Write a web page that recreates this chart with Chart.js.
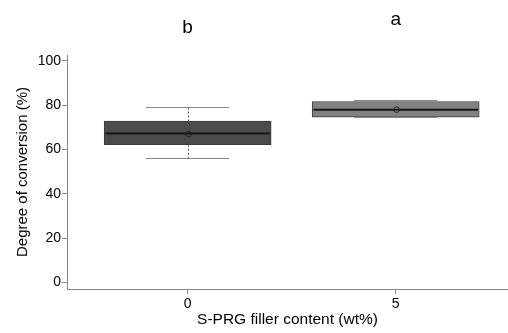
<!DOCTYPE html>
<html><head><meta charset="utf-8">
<script src="https://cdn.jsdelivr.net/npm/chart.js@4/dist/chart.umd.min.js"></script>
<style>html,body{margin:0;padding:0;background:#fff}#wrap{width:508px;height:333px}</style>
</head><body><div id="wrap"><canvas id="c" width="508" height="333"></canvas></div>
<script>
const categories = [0, 5];
const whiskerLow = [56.2, 74.5];
const q1 = [62.2, 74.6];
const median = [67.2, 78.0];
const q3 = [72.8, 81.7];
const whiskerHigh = [79.0, 82.4];
const means = [67.0, 78.0];
const letters = ['b', 'a'];
const letterY = [112.6, 116.2];
const yTicks = [0, 20, 40, 60, 80, 100];
const boxColors = ['#4b4b4b', '#828282'];

const FONT = '"Liberation Sans", Arial, sans-serif';

const boxPlugin = {
  id: 'boxExtras',
  afterDatasetsDraw(chart) {
    const ctx = chart.ctx, xs = chart.scales.x, ys = chart.scales.y;
    ctx.save();
    categories.forEach((c, i) => {
      const cx = Math.round(xs.getPixelForValue(c)) + 0.5;
      const capL = xs.getPixelForValue(c - 1), capR = xs.getPixelForValue(c + 1);
      const boxL = xs.getPixelForValue(c - 2), boxR = xs.getPixelForValue(c + 2);
      const yLo = Math.round(ys.getPixelForValue(whiskerLow[i])) + 0.5, yHi = Math.round(ys.getPixelForValue(whiskerHigh[i])) + 0.5;
      const yQ1 = ys.getPixelForValue(q1[i]), yQ3 = ys.getPixelForValue(q3[i]);
      ctx.strokeStyle = '#555';
      ctx.lineWidth = 1;
      ctx.setLineDash([2, 2]);
      ctx.beginPath();
      ctx.moveTo(cx, yHi); ctx.lineTo(cx, yQ3);
      ctx.moveTo(cx, yQ1); ctx.lineTo(cx, yLo);
      ctx.stroke();
      ctx.setLineDash([]);
      ctx.strokeStyle = '#8a8a8a';
      ctx.beginPath();
      ctx.moveTo(capL, yHi); ctx.lineTo(capR, yHi);
      ctx.moveTo(capL, yLo); ctx.lineTo(capR, yLo);
      ctx.stroke();
      const ym = ys.getPixelForValue(median[i]);
      ctx.strokeStyle = '#151515';
      ctx.lineWidth = 2;
      ctx.beginPath();
      ctx.moveTo(boxL + 1, ym); ctx.lineTo(boxR - 1, ym);
      ctx.stroke();
      const ymean = ys.getPixelForValue(means[i]);
      ctx.lineWidth = 1;
      ctx.strokeStyle = '#222';
      ctx.beginPath();
      ctx.arc(cx, ymean, 2.8, 0, Math.PI * 2);
      ctx.stroke();
      ctx.fillStyle = '#000';
      ctx.font = '19px ' + FONT;
      ctx.textAlign = 'center';
      ctx.textBaseline = 'alphabetic';
      ctx.fillText(letters[i], xs.getPixelForValue(c), ys.getPixelForValue(letterY[i]));
    });
    ctx.restore();
  }
};

new Chart(document.getElementById('c'), {
  type: 'bar',
  data: {
    datasets: [{
      data: categories.map((c, i) => ({ x: c, y: [q1[i], q3[i]] })),
      backgroundColor: boxColors,
      borderColor: '#3a3a3a',
      borderWidth: 1,
      borderSkipped: false,
      barThickness: 167
    }]
  },
  options: {
    responsive: false,
    animation: false,
    devicePixelRatio: 1,
    layout: { padding: { top: 55, right: 0, left: 0, bottom: 0 } },
    plugins: { legend: { display: false }, tooltip: { enabled: false } },
    scales: {
      x: {
        type: 'linear',
        offset: false,
        min: -2.9,
        max: 7.7,
        afterBuildTicks(s) { s.ticks = categories.map(v => ({ value: v })); },
        afterFit(s) { s.height = 44; },
        grid: { offset: false, drawOnChartArea: false, tickLength: 5, color: '#888', tickColor: '#888' },
        border: { color: '#888', width: 1 },
        ticks: { color: '#000', font: { family: FONT, size: 14 }, padding: 2 },
        title: { display: true, text: 'S-PRG filler content (wt%)', color: '#000', font: { family: FONT, size: 15.5 }, padding: { top: 3 } }
      },
      y: {
        min: -3,
        max: 102.7,
        afterBuildTicks(s) { s.ticks = yTicks.map(v => ({ value: v })); },
        afterFit(s) { s.width = 67; },
        grid: { drawOnChartArea: false, tickLength: 5, color: '#888', tickColor: '#888' },
        border: { color: '#888', width: 1 },
        ticks: { color: '#000', font: { family: FONT, size: 14 }, padding: 1 },
        title: { display: true, text: 'Degree of conversion (%)', color: '#000', font: { family: FONT, size: 15 }, padding: { top: 14, bottom: 4 } }
      }
    }
  },
  plugins: [boxPlugin]
});
</script></body></html>
